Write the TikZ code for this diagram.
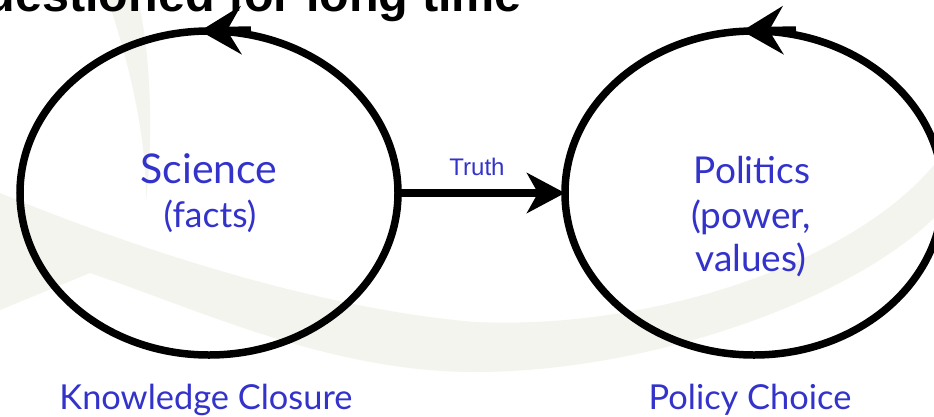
\documentclass[tikz,border=0pt]{standalone}
\usepackage{fontspec}
\setmainfont{Liberation Sans}
\newfontfamily\handfont{Lato}
\newfontfamily\labfont{Liberation Sans}
\usetikzlibrary{shapes.geometric,arrows.meta}
\definecolor{swoosh}{RGB}{243,244,238}
\definecolor{txtblue}{RGB}{51,51,204}
\tikzset{
  cyc/.style={ellipse,draw=black,line width=7.5pt,inner sep=0pt,outer sep=0pt,
    minimum width=378pt,minimum height=324pt},
  bigtip/.style={-{Stealth[length=41pt,width=48pt,inset=14pt]}},
  conn/.style={line width=7.5pt,-{Stealth[length=38pt,width=40pt,inset=11pt]}},
  hand/.style={font=\handfont\fontsize{37}{44}\selectfont,text=txtblue,anchor=base,inner sep=0pt},
  bottomlab/.style={font=\handfont\fontsize{34.4}{42}\selectfont,text=txtblue,anchor=base,inner sep=0pt},
  smalllab/.style={font=\labfont\fontsize{24}{28}\selectfont,text=txtblue,anchor=base,inner sep=0pt},
  titletxt/.style={font=\bfseries\fontsize{48.5}{52}\selectfont,text=black,anchor=base east,inner sep=0pt}
}
\begin{document}
\begin{tikzpicture}[x=1pt,y=-1pt]
\useasboundingbox (0,0) rectangle (934,416);
\clip (0,0) rectangle (934,416);
\fill[white] (0,0) rectangle (934,416);
% background swooshes
\fill[swoosh] (0,193) .. controls (150,255) and (330,310) .. (475,322)
  .. controls (650,330) and (850,265) .. (934,165) -- (934,218)
  .. controls (850,300) and (650,372) .. (475,372)
  .. controls (330,372) and (200,310) .. (90,273) -- (0,310) -- cycle;
\fill[swoosh] (108,0) .. controls (128,60) and (146,130) .. (146,200)
  .. controls (154,130) and (150,50) .. (138,0) -- cycle;
% title fragment
\node[titletxt] (title) at (522,11) {questioned for long time};
% cycles
\node[cyc] (sci) at (209,193) {};
\node[cyc] (pol) at (754,193) {};
\draw[line width=7.5pt,bigtip] ([xshift=42pt,yshift=1pt]sci.north) -- ([xshift=-9pt]sci.north);
\draw[line width=7.5pt,bigtip] ([xshift=42pt,yshift=1pt]pol.north) -- ([xshift=-12pt]pol.north);
% connector
\draw[conn] (sci.east) -- (pol.west);
\node[smalllab] (truth) at (477,175) {Truth};
% texts
\node[hand,font=\handfont\fontsize{41}{44}\selectfont] (scit) at (209,183) {Science};
\node[hand,font=\handfont\fontsize{35.5}{44}\selectfont] (scif) at (210,227) {(facts)};
\node[hand] (polt) at (752,183) {Politics};
\node[hand] (polp) at (751,228) {(power,};
\node[hand] (polv) at (751,271) {values)};
\node[bottomlab] (kc) at (206,409) {Knowledge Closure};
\node[bottomlab] (pc) at (750,409) {Policy Choice};
\end{tikzpicture}
\end{document}
